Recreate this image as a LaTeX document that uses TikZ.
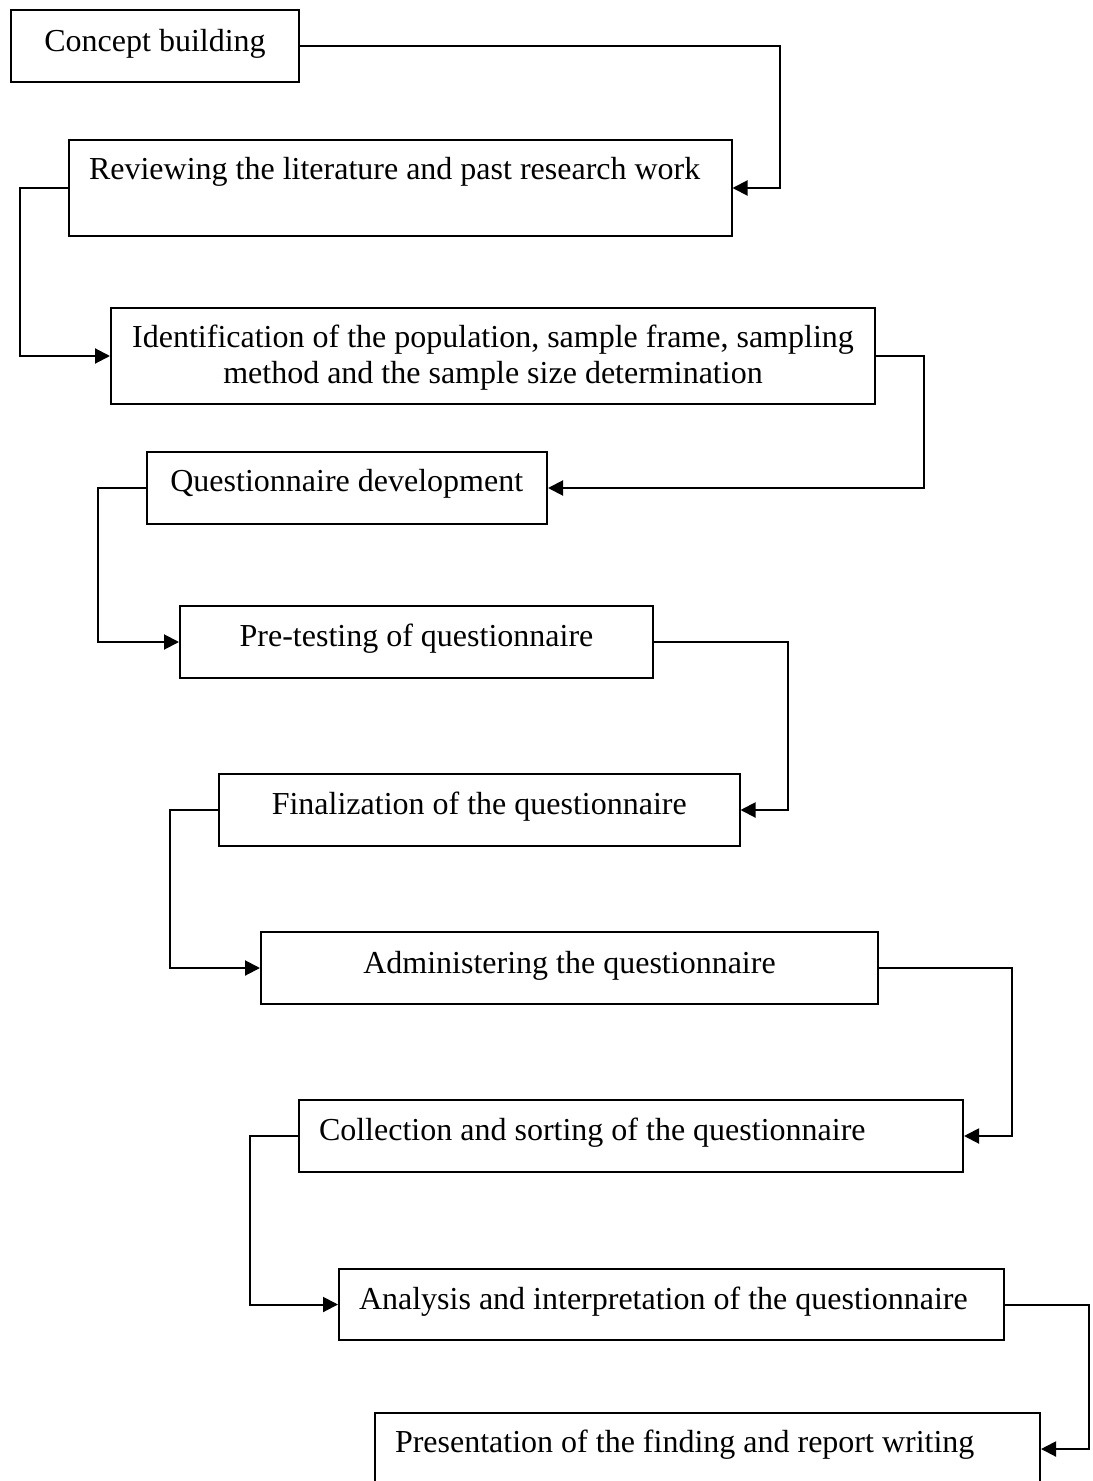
\documentclass[tikz,border=0pt]{standalone}
\usepackage{fontspec}
\setmainfont{Liberation Serif}
\usetikzlibrary{arrows.meta}
\newcommand\myleft[2]{\makebox[#1][l]{#2}}
\begin{document}
\begin{tikzpicture}[x=0.5pt,y=-0.5pt,
  box/.style={draw, line width=1pt, inner sep=0pt, anchor=north west,
    font=\fontsize{16}{17.5}\selectfont, align=center},
  arr/.style={line width=1pt, -{Triangle[length=7.5pt,width=7.5pt]}}
]
\useasboundingbox (0,0) rectangle (1092,1481);

\node[box, minimum width=144pt, minimum height=36pt, text height=21pt, text depth=15pt] (c) at (10,9) {Concept building};
\node[box, minimum width=331.25pt, minimum height=48pt, text height=20pt, text depth=28pt] (r) at (68,139) {\myleft{311.25pt}{Reviewing the literature and past research work}};
\node[box, minimum width=382pt, minimum height=48pt, text height=37.5pt, text depth=10.5pt] (i) at (110,307) {Identification of the population, sample frame, sampling\\method and the sample size determination};
\node[box, minimum width=200.25pt, minimum height=36pt, text height=19.5pt, text depth=16.5pt] (q) at (145.5,451) {Questionnaire development};
\node[box, minimum width=236.5pt, minimum height=36pt, text height=20pt, text depth=16pt] (p) at (179,605) {Pre-testing of questionnaire};
\node[box, minimum width=260.25pt, minimum height=36pt, text height=20pt, text depth=16pt] (f) at (218,773) {Finalization of the questionnaire};
\node[box, minimum width=308.5pt, minimum height=36pt, text height=20.5pt, text depth=15.5pt] (a) at (260,931) {Administering the questionnaire};
\node[box, minimum width=332pt, minimum height=36pt, text height=20pt, text depth=16pt] (co) at (298,1099) {\myleft{312pt}{Collection and sorting of the questionnaire}};
\node[box, minimum width=332.5pt, minimum height=35.5pt, text height=20pt, text depth=15.5pt] (an) at (338,1268) {\myleft{312.5pt}{Analysis and interpretation of the questionnaire}};
\node[box, minimum width=332.5pt, minimum height=36pt, text height=19.5pt, text depth=16.5pt] (pr) at (374,1412) {\myleft{312.5pt}{Presentation of the finding and report writing}};

\draw[arr] (c.east) -- ++(480,0) |- (r.east);
\draw[arr] (r.west) -- ++(-48,0) |- (i.west);
\draw[arr] (i.east) -- ++(48,0) |- (q.east);
\draw[arr] (q.west) -- ++(-47.5,0) |- (p.west);
\draw[arr] (p.east) -- ++(134,0) |- (f.east);
\draw[arr] (f.west) -- ++(-48,0) |- (a.west);
\draw[arr] (a.east) -- ++(133,0) |- (co.east);
\draw[arr] (co.west) -- ++(-48,0) |- (an.west);
\draw[arr] (an.east) -- ++(84,0) |- (pr.east);
\end{tikzpicture}
\end{document}
